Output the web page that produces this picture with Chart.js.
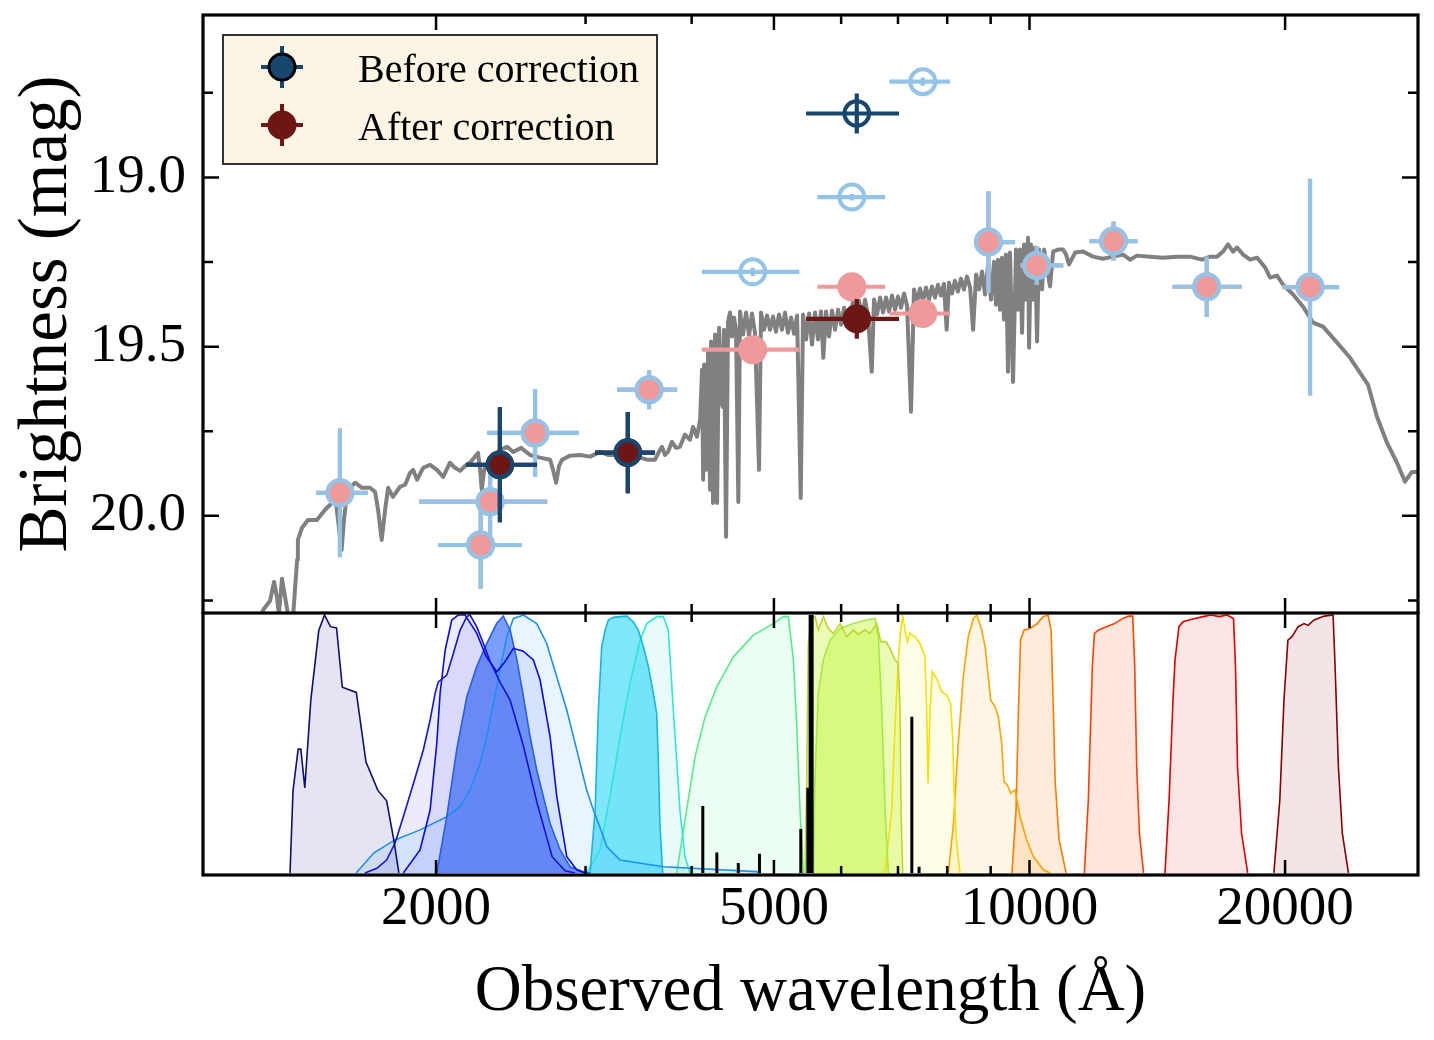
<!DOCTYPE html>
<html>
<head>
<meta charset="utf-8">
<script src="https://cdn.jsdelivr.net/npm/chart.js@4.4.1/dist/chart.umd.min.js"></script>
<style>
  html, body { margin: 0; padding: 0; background: #fff; }
  #wrap { position: relative; width: 1434px; height: 1040px; }
  #top { position: absolute; left: 0; top: 0; }
  #bottom { position: absolute; left: 0; top: 612px; }
</style>
</head>
<body>
<div id="wrap">
  <canvas id="top" width="1434" height="614"></canvas>
  <canvas id="bottom" width="1434" height="428"></canvas>
</div>
<script>
// ---- model spectrum (observed wavelength in Å, magnitude) ----
const specWave = [1224, 1251, 1275, 1289, 1299, 1306, 1317, 1328, 1339, 1357, 1372, 1375, 1390, 1413, 1448, 1480, 1512, 1525, 1533, 1548,
  1558, 1569, 1584, 1606, 1636, 1672, 1695, 1709, 1726, 1742, 1756, 1779, 1814, 1839, 1864, 1879, 1900, 1931, 1968, 2005,
  2039, 2077, 2105, 2135, 2164, 2193, 2241, 2254, 2264, 2279, 2303, 2348, 2379, 2425, 2465, 2519, 2581, 2652, 2725, 2747,
  2770, 2792, 2815, 2876, 2955, 3037, 3120, 3188, 3267, 3339, 3412, 3478, 3545, 3622, 3671, 3691, 3721, 3751, 3792, 3834,
  3875, 3928, 3982, 4015, 4058, 4093, 4115, 4127, 4138, 4160, 4183, 4205, 4216, 4239, 4263, 4286, 4309, 4332, 4352, 4367,
  4391, 4415, 4439, 4463, 4487, 4512, 4540, 4561, 4598, 4636, 4674, 4711, 4750, 4802, 4828, 4867, 4907, 4947, 4988, 5028,
  5069, 5111, 5153, 5194, 5238, 5281, 5324, 5377, 5411, 5455, 5500, 5544, 5590, 5635, 5681, 5717, 5759, 5806, 5853, 5902,
  5950, 5999, 6048, 6098, 6146, 6196, 6247, 6298, 6349, 6402, 6453, 6519, 6560, 6614, 6668, 6723, 6777, 6833, 6887, 6944,
  7000, 7058, 7116, 7174, 7252, 7311, 7371, 7431, 7492, 7553, 7615, 7676, 7740, 7802, 7865, 7929, 7988, 8038, 8103, 8169,
  8235, 8303, 8371, 8440, 8512, 8582, 8652, 8722, 8792, 8865, 8937, 9008, 9082, 9131, 9181, 9231, 9281, 9332, 9382, 9433,
  9485, 9563, 9641, 9693, 9747, 9800, 9853, 9907, 9960, 9988, 10042, 10097, 10152, 10207, 10262, 10347, 10403, 10489, 10574, 10661,
  10806, 10954, 11043, 11133, 11317, 11563, 11882, 12208, 12544, 12890, 13134, 13386, 13867, 14366, 14918, 15454, 15969, 16319, 16632, 16901,
  17131, 17367, 17557, 17847, 18190, 18539, 18947, 19201, 19570, 19892, 20440, 21003, 21575, 22170, 23030, 23854, 25041, 25661, 26367, 27092,
  27688, 28211, 28599, 29200];
const specMag = [20.367, 20.278, 20.251, 20.195, 20.240, 20.290, 20.186, 20.240, 20.293, 20.299, 20.130, 20.071, 20.036, 20.012, 20.012, 19.982, 19.959, 19.962, 20.012, 20.101,
  20.012, 19.944, 19.917, 19.902, 19.917, 19.917, 19.929, 19.982, 20.071, 19.982, 19.917, 19.944, 19.914, 19.908, 19.873, 19.864, 19.893, 19.858, 19.849, 19.864,
  19.885, 19.843, 19.858, 19.867, 19.852, 19.843, 19.814, 19.864, 19.923, 19.864, 19.840, 19.820, 19.805, 19.796, 19.811, 19.799, 19.820, 19.828, 19.834, 19.864,
  19.902, 19.852, 19.834, 19.822, 19.820, 19.825, 19.811, 19.820, 19.820, 19.814, 19.817, 19.828, 19.834, 19.834, 19.805, 19.796, 19.820, 19.811, 19.781, 19.799,
  19.796, 19.760, 19.775, 19.737, 19.766, 19.716, 19.568, 19.893, 19.553, 19.864, 19.509, 19.923, 19.485, 19.962, 19.464, 19.962, 19.444, 19.657, 19.678, 19.450,
  20.062, 19.426, 19.399, 19.470, 19.414, 19.450, 19.959, 19.396, 19.464, 19.399, 19.467, 19.402, 19.459, 19.864, 19.399, 19.450, 19.408, 19.450, 19.411, 19.456,
  19.405, 19.450, 19.399, 19.459, 19.414, 19.462, 19.408, 19.947, 19.405, 19.479, 19.402, 19.494, 19.399, 19.479, 19.396, 19.533, 19.396, 19.470, 19.393, 19.450,
  19.391, 19.435, 19.385, 19.426, 19.414, 19.367, 19.420, 19.364, 19.414, 19.361, 19.408, 19.574, 19.361, 19.405, 19.355, 19.399, 19.355, 19.396, 19.349, 19.391,
  19.352, 19.385, 19.343, 19.379, 19.692, 19.331, 19.370, 19.328, 19.367, 19.325, 19.361, 19.322, 19.355, 19.317, 19.349, 19.314, 19.450, 19.311, 19.343, 19.305,
  19.337, 19.299, 19.331, 19.293, 19.325, 19.450, 19.287, 19.331, 19.278, 19.346, 19.257, 19.361, 19.249, 19.376, 19.243, 19.391, 19.237, 19.420, 19.228, 19.574,
  19.222, 19.604, 19.213, 19.391, 19.213, 19.459, 19.198, 19.361, 19.178, 19.503, 19.198, 19.361, 19.207, 19.485, 19.213, 19.331, 19.213, 19.272, 19.322, 19.219,
  19.213, 19.213, 19.228, 19.257, 19.222, 19.219, 19.234, 19.240, 19.234, 19.228, 19.243, 19.231, 19.234, 19.237, 19.234, 19.234, 19.243, 19.234, 19.234, 19.219,
  19.198, 19.219, 19.207, 19.228, 19.243, 19.237, 19.266, 19.296, 19.290, 19.317, 19.346, 19.382, 19.429, 19.441, 19.488, 19.533, 19.612, 19.707, 19.784, 19.843,
  19.899, 19.870, 19.870, 19.879];

// ---- photometry, light-blue set (before: open ring, after: pink) ----
const lbWave = [1541, 2257, 2316, 2616, 3564, 4721, 6176, 7487, 8946, 10198, 12558, 16170, 21400];
const lbWaveLo = [1445, 2011, 1910, 2297, 3268, 4111, 5626, 6839, 8800, 9760, 11768, 14740, 19860];
const lbWaveHi = [1663, 2524, 2704, 2947, 3847, 5357, 6761, 8060, 9617, 10960, 13405, 17790, 23160];
const lbMagBefore = [19.932, 20.086, 19.958, 19.755, 19.627, 19.279, 19.058, 18.717, 19.191, 19.260, 19.188, 19.323, 19.324];
const lbMagAfter = [19.932, 20.086, 19.958, 19.755, 19.627, 19.509, 19.323, 19.402, 19.191, 19.260, 19.188, 19.323, 19.324];
const lbMagErr = [0.19, 0.13, 0.1, 0.13, 0.058, 0.012, 0.01, 0.012, 0.15, 0.057, 0.058, 0.089, 0.32];

// ---- photometry, dark set (legend entries) ----
const dkWave = [2378, 3364, 6260];
const dkWaveLo = [2170, 3078, 5456];
const dkWaveHi = [2630, 3622, 7020];
const dkMagBefore = [19.849, 19.813, 18.811];
const dkMagAfter = [19.849, 19.813, 19.418];
const dkMagErr = [0.17, 0.12, 0.059];

const legendLabels = ['Before correction', 'After correction'];

// ---- filter transmission curves (Å, normalised) ----
const navyW = [1346, 1357, 1376, 1386, 1401, 1424, 1455, 1478, 1502, 1527, 1551, 1611, 1654, 1708, 1749, 1783, 1808];
const navyT = [0, 0.32, 0.48, 0.48, 0.33, 0.67, 0.94, 1.0, 0.955, 0.95, 0.72, 0.70, 0.43, 0.32, 0.28, 0.13, 0];
const blueAW = [1649, 1703, 1749, 1789, 1830, 1881, 1932, 1968, 1995, 2012, 2059, 2096, 2135, 2174, 2193, 2233, 2274, 2316, 2379, 2445, 2533, 2631, 2740, 2838, 2915];
const blueAT = [0, 0.018, 0.05, 0.115, 0.218, 0.347, 0.477, 0.593, 0.697, 0.741, 0.767, 0.851, 0.942, 0.994, 1.0, 0.955, 0.89, 0.82, 0.74, 0.67, 0.496, 0.27, 0.063, 0.008, 0];
const blueBW = [1830, 1915, 1968, 2004, 2022, 2050, 2087, 2124, 2164, 2233, 2291, 2358, 2412, 2467, 2533, 2604, 2652, 2725, 2775, 2851, 2929, 2995];
const blueBT = [0, 0.089, 0.244, 0.503, 0.697, 0.864, 0.981, 1.0, 1.0, 0.93, 0.84, 0.78, 0.82, 0.871, 0.86, 0.826, 0.748, 0.528, 0.295, 0.063, 0.012, 0];
const royalW = [2004, 2059, 2115, 2174, 2233, 2295, 2358, 2400, 2445, 2490, 2535, 2581, 2628, 2676, 2725, 2800, 2876, 2982, 3037];
const royalT = [0, 0.218, 0.477, 0.683, 0.8, 0.89, 0.968, 0.996, 0.942, 0.826, 0.683, 0.529, 0.399, 0.295, 0.192, 0.089, 0.024, 0.005, 0];
const dodgerW = [1610, 1690, 1789, 1915, 2059, 2135, 2193, 2254, 2295, 2337, 2379, 2423, 2467, 2535, 2628, 2700, 2775, 2851, 2929, 3009, 3064, 3148, 3177, 3294, 3704, 4772, 4815];
const dodgerT = [0, 0.078, 0.128, 0.167, 0.218, 0.257, 0.322, 0.425, 0.528, 0.658, 0.787, 0.916, 0.987, 1.0, 0.967, 0.89, 0.76, 0.632, 0.477, 0.322, 0.245, 0.141, 0.102, 0.05, 0.024, 0.005, 0];
const cyanW = [3037, 3079, 3106, 3134, 3163, 3191, 3234, 3294, 3354, 3414, 3461, 3509, 3557, 3605, 3638, 3654, 3671, 3698];
const cyanT = [0, 0.244, 0.632, 0.877, 0.942, 0.981, 0.991, 0.994, 0.996, 0.974, 0.942, 0.877, 0.8, 0.697, 0.62, 0.438, 0.18, 0];
const turqW = [3009, 3120, 3205, 3294, 3384, 3478, 3542, 3638, 3704, 3755, 3806, 3875, 3928, 3982];
const turqT = [0, 0.089, 0.295, 0.528, 0.735, 0.903, 0.967, 0.994, 0.994, 0.942, 0.632, 0.244, 0.063, 0];
const springW = [3841, 3946, 4037, 4149, 4282, 4479, 4728, 4992, 5129, 5199, 5271, 5320, 5367, 5415];
const springT = [0, 0.244, 0.45, 0.606, 0.722, 0.838, 0.922, 0.967, 0.994, 0.994, 0.826, 0.567, 0.244, 0];
const limeAW = [5441, 5465, 5489, 5539, 5590, 5640, 5717, 5795, 5874, 5983, 6092, 6201, 6286, 6402, 6489, 6608, 6681, 6777, 6850, 6944, 7006, 7039, 7058, 7090];
const limeAT = [0, 0.373, 0.89, 0.994, 0.994, 0.942, 0.994, 0.948, 0.929, 0.967, 0.916, 0.942, 0.926, 0.942, 0.929, 0.967, 0.897, 0.897, 0.871, 0.826, 0.812, 0.632, 0.244, 0];
const limeBW = [5564, 5590, 5640, 5717, 5822, 5983, 6201, 6431, 6578, 6637, 6699, 6759, 6820];
const limeBT = [0, 0.373, 0.697, 0.826, 0.903, 0.948, 0.967, 0.981, 0.987, 0.916, 0.632, 0.244, 0];
const yellowW = [6759, 6882, 6944, 7006, 7052, 7090, 7135, 7180, 7232, 7331, 7431, 7533, 7567, 7594, 7635, 7682, 7775, 7880, 7988, 8074, 8118, 8153, 8206, 8281];
const yellowT = [0, 0.244, 0.567, 0.826, 0.942, 0.996, 0.942, 0.897, 0.929, 0.916, 0.89, 0.838, 0.632, 0.347, 0.632, 0.78, 0.754, 0.703, 0.69, 0.658, 0.528, 0.309, 0.115, 0];
const orangeW = [8023, 8132, 8243, 8356, 8470, 8589, 8668, 8785, 8865, 8944, 9001, 9107, 9189, 9274, 9332, 9416, 9503, 9615, 9747, 9925, 10105, 10384, 10574];
const orangeT = [0, 0.18, 0.503, 0.76, 0.916, 0.987, 1.0, 0.942, 0.877, 0.76, 0.67, 0.645, 0.606, 0.503, 0.354, 0.341, 0.309, 0.322, 0.218, 0.128, 0.063, 0.012, 0];
const dkOrangeW = [9536, 9641, 9705, 9760, 9853, 10015, 10207, 10375, 10516, 10603, 10661, 10719, 10835, 11043];
const dkOrangeT = [0, 0.244, 0.632, 0.903, 0.942, 0.948, 0.967, 0.994, 1.0, 0.942, 0.67, 0.36, 0.128, 0];
const orRedW = [11603, 11730, 11858, 11926, 12057, 12323, 12594, 12876, 13085, 13230, 13302, 13374, 13474, 13624];
const orRedT = [0, 0.283, 0.8, 0.929, 0.942, 0.955, 0.967, 0.987, 0.996, 0.996, 0.8, 0.412, 0.153, 0];
const redW = [14440, 14601, 14757, 14838, 14999, 15163, 15411, 15666, 16013, 16363, 16722, 17086, 17390, 17484, 17579, 17775, 18070];
const redT = [0, 0.283, 0.67, 0.826, 0.955, 0.974, 0.981, 0.987, 0.994, 1.0, 0.994, 1.0, 0.987, 0.8, 0.412, 0.153, 0];
const dkRedW = [19401, 19716, 19939, 20154, 20379, 20718, 21059, 21288, 21633, 22241, 22781, 22906, 23111, 23360, 23748];
const dkRedT = [0, 0.283, 0.67, 0.903, 0.916, 0.955, 0.967, 0.96, 0.981, 0.996, 1.0, 0.8, 0.412, 0.153, 0];

// black line markers in the filter panel
const lineWave = [4123, 4283, 4540, 4808, 5378, 5482, 7268, 7412];
const lineHeight = [0.26, 0.079, 0.039, 0.074, 0.17, 0.33, 0.606, 0.024];
const strongLineWave = [5531];
const strongLineHeight = [1.0];

// ---- axes ----
const waveMin = 1063, waveMax = 28680;
const magTop = 18.52, magBottom = 20.287;
const xMajorTicks = [2000, 5000, 10000, 20000];
const xMinorTicks = [3000, 4000, 6000, 7000, 8000, 9000];
const yMajorTicks = [19.0, 19.5, 20.0];
const yMinorTicks = [18.75, 19.25, 19.75, 20.25];

const FONT = '"Liberation Serif", "DejaVu Serif", serif';
const C = {
  gray: '#808080', lb: '#93c4e8', pink: '#ef9a9a', dkBlue: '#17466f', dkRed: '#6c1616'
};

const pts = (w, m) => w.map((v, i) => ({ x: v, y: m[i] }));
const errs = (lo, hi, e) => lo.map((v, i) => ({ lo: v, hi: hi[i], e: e[i] }));

// error bars: drawn just before the first dataset of a group, for every dataset in that group
const errorBars = {
  id: 'errorBars',
  beforeDatasetDraw(chart, args) {
    const group = chart.data.datasets[args.index].barGroup;
    if (!group) return;
    const { ctx, chartArea: a, scales: { x, y } } = chart;
    ctx.save();
    ctx.beginPath();
    ctx.rect(a.left, a.top, a.right - a.left, a.bottom - a.top);
    ctx.clip();
    group.forEach(idx => {
      const ds = chart.data.datasets[idx];
      ctx.strokeStyle = ds.errColor;
      ctx.lineWidth = 4.2;
      ctx.beginPath();
      ds.data.forEach((p, i) => {
        const e = ds.errors[i];
        const px = x.getPixelForValue(p.x), py = y.getPixelForValue(p.y);
        ctx.moveTo(x.getPixelForValue(e.lo), py);
        ctx.lineTo(x.getPixelForValue(e.hi), py);
        ctx.moveTo(px, y.getPixelForValue(p.y - e.e));
        ctx.lineTo(px, y.getPixelForValue(p.y + e.e));
      });
      ctx.stroke();
    });
    ctx.restore();
  }
};

// frame with inward ticks on all sides
const frame = {
  id: 'frame',
  afterDraw(chart, args, opts) {
    const { ctx, chartArea: a } = chart;
    const xs = chart.scales.x, ys = chart.scales.y;
    ctx.save();
    ctx.strokeStyle = '#000';
    ctx.lineWidth = 2.5;
    ctx.beginPath();
    const xTick = (v, len) => {
      const p = xs.getPixelForValue(v);
      ctx.moveTo(p, a.top); ctx.lineTo(p, a.top + len);
      ctx.moveTo(p, a.bottom); ctx.lineTo(p, a.bottom - len);
    };
    const yTick = (v, len) => {
      const p = ys.getPixelForValue(v);
      ctx.moveTo(a.left, p); ctx.lineTo(a.left + len, p);
      ctx.moveTo(a.right, p); ctx.lineTo(a.right - len, p);
    };
    xMajorTicks.forEach(v => xTick(v, 15));
    xMinorTicks.forEach(v => xTick(v, 9));
    if (opts.yTicks) {
      yMajorTicks.forEach(v => yTick(v, 16));
      yMinorTicks.forEach(v => yTick(v, 10));
    }
    ctx.stroke();
    ctx.lineWidth = 3.2;
    ctx.strokeRect(a.left, a.top, a.right - a.left, a.bottom - a.top);
    ctx.restore();
  }
};

const legendBox = {
  id: 'legendBox',
  afterDraw(chart) {
    const ctx = chart.ctx;
    ctx.save();
    ctx.fillStyle = '#fcf5e3';
    ctx.strokeStyle = '#333';
    ctx.lineWidth = 2;
    ctx.fillRect(223, 35, 434, 129);
    ctx.strokeRect(223, 35, 434, 129);
    const marks = [[C.dkBlue, '#000', 67], [C.dkRed, C.dkRed, 125]];
    marks.forEach(([col, edge, cy], i) => {
      const cx = 282;
      ctx.strokeStyle = col;
      ctx.lineWidth = 4;
      ctx.beginPath();
      ctx.moveTo(cx - 21, cy); ctx.lineTo(cx + 21, cy);
      ctx.moveTo(cx, cy - 21); ctx.lineTo(cx, cy + 21);
      ctx.stroke();
      ctx.beginPath();
      ctx.arc(cx, cy, 13, 0, Math.PI * 2);
      ctx.fillStyle = col;
      ctx.fill();
      ctx.lineWidth = 3;
      ctx.strokeStyle = edge;
      ctx.stroke();
      ctx.fillStyle = '#000';
      ctx.font = '40px ' + FONT;
      ctx.textBaseline = 'alphabetic';
      ctx.fillText(legendLabels[i], 358, cy + 15);
    });
    ctx.restore();
  }
};

// ---- top panel: SED ----
new Chart(document.getElementById('top'), {
  type: 'scatter',
  data: {
    datasets: [
      { data: pts(dkWave, dkMagBefore), errors: errs(dkWaveLo, dkWaveHi, dkMagErr), errColor: C.dkBlue,
        pointRadius: 12.3, pointBorderWidth: 4, pointBorderColor: C.dkBlue, pointBackgroundColor: 'rgba(0,0,0,0)', order: 1 },
      { data: pts(dkWave, dkMagAfter), errors: errs(dkWaveLo, dkWaveHi, dkMagErr), errColor: C.dkRed, barGroup: [1, 0],
        pointRadius: 12.3, pointBorderWidth: 4, pointBorderColor: C.dkRed, pointBackgroundColor: C.dkRed, order: 2 },
      { data: pts(lbWave, lbMagBefore), errors: errs(lbWaveLo, lbWaveHi, lbMagErr), errColor: C.lb,
        pointRadius: 12.5, pointBorderWidth: 4, pointBorderColor: C.lb, pointBackgroundColor: 'rgba(0,0,0,0)', order: 3 },
      { data: pts(lbWave, lbMagAfter), errors: errs(lbWaveLo, lbWaveHi, lbMagErr), errColor: C.pink, barGroup: [3, 2],
        pointRadius: 12.5, pointBorderWidth: 4, pointBorderColor: C.pink, pointBackgroundColor: C.pink, order: 4 },
      { data: pts(specWave, specMag), showLine: true, borderColor: C.gray, borderWidth: 4, borderJoinStyle: 'round',
        pointRadius: 0, clip: 0, order: 5 }
    ]
  },
  options: {
    responsive: false,
    devicePixelRatio: 1,
    animation: false,
    events: [],
    layout: { autoPadding: false, padding: { left: 0, right: 16, top: 15, bottom: 1 } },
    scales: {
      x: { type: 'logarithmic', min: waveMin, max: waveMax, display: false },
      y: {
        reverse: true, min: magTop, max: magBottom,
        afterBuildTicks: s => { s.ticks = yMajorTicks.map(v => ({ value: v })); },
        afterFit: s => { s.width = 203; s.paddingTop = 0; s.paddingBottom = 0; },
        grid: { display: false, drawTicks: false },
        border: { display: false },
        ticks: { color: '#000', padding: 17, font: { family: FONT, size: 55 }, callback: v => Number(v).toFixed(1) },
        title: { display: true, text: 'Brightness (mag)', color: '#000', font: { family: FONT, size: 69 }, padding: { top: 6, bottom: 0 } }
      }
    },
    plugins: { legend: { display: false }, tooltip: { enabled: false }, frame: { yTicks: true } }
  },
  plugins: [errorBars, frame, legendBox]
});

// ---- bottom panel: filter curves ----
const filt = (w, t, stroke, fill) => ({
  data: pts(w, t), showLine: true, borderColor: stroke, backgroundColor: fill, fill: 'origin',
  borderWidth: 1.6, pointRadius: 0, order: 2
});
const vlines = (w, h) => w.flatMap((v, i) => [{ x: v, y: 0 }, { x: v, y: h[i] }, { x: v, y: null }]);

new Chart(document.getElementById('bottom'), {
  type: 'scatter',
  data: {
    datasets: [
      { data: vlines(strongLineWave, strongLineHeight), showLine: true, spanGaps: false, borderColor: '#000', borderWidth: 5, pointRadius: 0, order: 0 },
      { data: vlines(lineWave, lineHeight), showLine: true, spanGaps: false, borderColor: '#000', borderWidth: 3, pointRadius: 0, order: 0 },
      filt(navyW, navyT, '#10106e', 'rgba(0,0,128,0.1)'),
      filt(blueAW, blueAT, '#1414d2', 'rgba(0,0,205,0.08)'),
      filt(blueBW, blueBT, '#0a0ae6', 'rgba(30,60,220,0.09)'),
      filt(royalW, royalT, '#2a5ee8', 'rgba(70,120,248,0.72)'),
      filt(dodgerW, dodgerT, '#1e8ff5', 'rgba(30,144,255,0.1)'),
      filt(cyanW, cyanT, '#19b5e0', 'rgba(0,205,250,0.5)'),
      filt(turqW, turqT, '#2ee6d6', 'rgba(64,224,208,0.12)'),
      filt(springW, springT, '#55ec8c', 'rgba(64,240,128,0.1)'),
      filt(limeAW, limeAT, '#bdd62c', 'rgba(200,245,70,0.4)'),
      filt(limeBW, limeBT, '#a6e848', 'rgba(195,250,60,0.45)'),
      filt(yellowW, yellowT, '#f5e000', 'rgba(255,240,0,0.1)'),
      filt(orangeW, orangeT, '#ffa500', 'rgba(255,165,0,0.1)'),
      filt(dkOrangeW, dkOrangeT, '#ff7a00', 'rgba(255,120,0,0.15)'),
      filt(orRedW, orRedT, '#ff4000', 'rgba(255,60,0,0.12)'),
      filt(redW, redT, '#e00000', 'rgba(220,0,0,0.1)'),
      filt(dkRedW, dkRedT, '#8b0000', 'rgba(139,0,0,0.1)')
    ]
  },
  options: {
    responsive: false,
    devicePixelRatio: 1,
    animation: false,
    events: [],
    layout: { autoPadding: false, padding: { left: 203, right: 16, top: 1, bottom: 0 } },
    scales: {
      x: {
        type: 'logarithmic', min: waveMin, max: waveMax,
        afterBuildTicks: s => { s.ticks = xMajorTicks.map(v => ({ value: v })); },
        afterFit: s => { s.height = 165; s.paddingLeft = 0; s.paddingRight = 0; },
        grid: { display: false, drawTicks: false },
        border: { display: false },
        ticks: { color: '#000', padding: 2, maxRotation: 0, autoSkip: false, font: { family: FONT, size: 55 }, callback: v => String(v) },
        title: { display: true, text: 'Observed wavelength (Å)', color: '#000', font: { family: FONT, size: 65 }, padding: { top: 0, bottom: 8 } }
      },
      y: { min: -0.008, max: 1.008, display: false }
    },
    plugins: { legend: { display: false }, tooltip: { enabled: false }, filler: { drawTime: 'beforeDatasetsDraw' }, frame: { yTicks: false } }
  },
  plugins: [frame]
});
</script>
</body>
</html>
